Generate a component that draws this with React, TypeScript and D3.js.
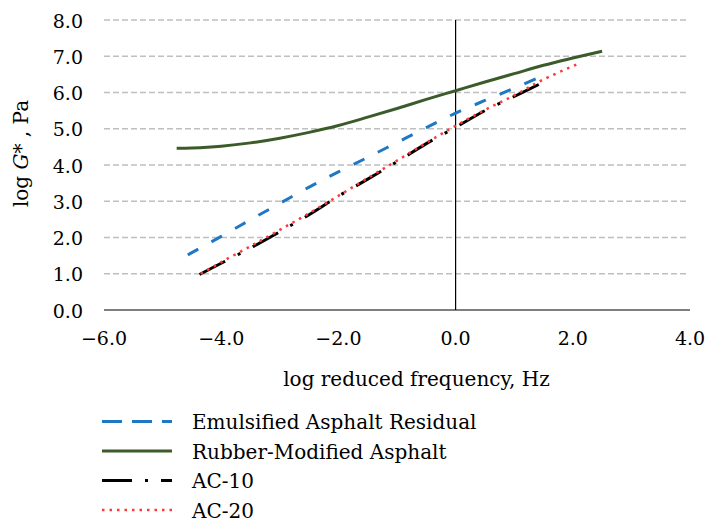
import React from 'react';
import * as d3 from 'd3';

const width = 709;
const height = 523;

// plot area in px
const margin = { top: 20, right: 19, bottom: 213, left: 104 };

// axis ticks
const xTicks = [-6, -4, -2, 0, 2, 4];
const yTicks = [0, 1, 2, 3, 4, 5, 6, 7, 8];

// Emulsified Asphalt Residual
const emulX = [-4.57, -4.0, -3.5, -3.0, -2.5, -2.0, -1.5, -1.0, -0.5, 0.0, 0.5, 1.0, 1.5, 1.59];
const emulY = [1.52, 2.03, 2.49, 2.94, 3.39, 3.81, 4.21, 4.62, 5.03, 5.43, 5.78, 6.12, 6.47, 6.53];

// Rubber-Modified Asphalt
const rubberX = [-4.76, -4.5, -4.0, -3.5, -3.0, -2.5, -2.0, -1.5, -1.0, -0.5, 0.0, 0.5, 1.0, 1.5, 2.0, 2.5];
const rubberY = [4.46, 4.47, 4.52, 4.61, 4.74, 4.9, 5.09, 5.32, 5.56, 5.81, 6.05, 6.29, 6.52, 6.75, 6.95, 7.14];

// AC-10
const ac10X = [-4.37, -4.0, -3.5, -3.0, -2.5, -2.0, -1.5, -1.0, -0.5, 0.0, 0.5, 1.0, 1.43];
const ac10Y = [0.98, 1.29, 1.71, 2.16, 2.63, 3.14, 3.61, 4.09, 4.59, 5.04, 5.5, 5.89, 6.23];

// AC-20
const ac20X = [-4.35, -4.0, -3.5, -3.0, -2.5, -2.0, -1.5, -1.0, -0.5, 0.0, 0.5, 1.0, 1.5, 2.12];
const ac20Y = [1.0, 1.32, 1.76, 2.21, 2.67, 3.15, 3.64, 4.12, 4.61, 5.08, 5.52, 5.92, 6.36, 6.81];

const font = '"DejaVu Serif", serif';

const series = [
  { name: 'Emulsified Asphalt Residual', xs: emulX, ys: emulY, color: '#1f78c3', w: 3, dash: '12 15', legendDash: '20 10' },
  { name: 'Rubber-Modified Asphalt', xs: rubberX, ys: rubberY, color: '#3b5c2a', w: 3, dash: null, legendDash: null },
  { name: 'AC-10', xs: ac10X, ys: ac10Y, color: '#000000', w: 3, dash: '29 14 3 14', legendDash: '30 13 3 13' },
  { name: 'AC-20', xs: ac20X, ys: ac20Y, color: '#ff3838', w: 2.5, dash: '2.5 5', legendDash: '2.5 5' },
];

const App = () => {
  const x = d3.scaleLinear().domain([-6, 4]).range([margin.left, width - margin.right]);
  const y = d3.scaleLinear().domain([0, 8]).range([height - margin.bottom, margin.top]);
  const fmt = d3.format('.1f');

  const line = d3
    .line<[number, number]>()
    .x(d => x(d[0]))
    .y(d => y(d[1]))
    .curve(d3.curveCatmullRom.alpha(0.5));

  return (
    <svg width={width} height={height} style={{ position: 'absolute', left: 0, top: 0, background: '#fff' }}>
      {/* grid */}
      {yTicks.filter(t => t > 0).map(t => (
        <line key={t} x1={x(-6)} x2={x(4) - 2} y1={y(t)} y2={y(t)} stroke="#bfbfbf" strokeWidth={1.3} strokeDasharray="6 3" />
      ))}
      {/* axes */}
      <line x1={x(-6)} x2={x(4)} y1={y(0)} y2={y(0)} stroke="#000" strokeWidth={1.2} />
      <line x1={x(0)} x2={x(0)} y1={y(8)} y2={y(0)} stroke="#000" strokeWidth={1.2} />

      {yTicks.map(t => (
        <text key={t} x={83} y={y(t) + 7.5} textAnchor="end" fontFamily={font} fontSize={19} fill="#000">
          {fmt(t)}
        </text>
      ))}
      {xTicks.map(t => (
        <text key={t} x={x(t)} y={345} textAnchor="middle" fontFamily={font} fontSize={19} fill="#000">
          {fmt(t)}
        </text>
      ))}

      {series.map(s => (
        <path
          key={s.name}
          d={line(s.xs.map((v, i) => [v, s.ys[i]] as [number, number])) || ''}
          fill="none"
          stroke={s.color}
          strokeWidth={s.w}
          strokeDasharray={s.dash || undefined}
          strokeLinecap="butt"
        />
      ))}

      <text x={416.5} y={386} textAnchor="middle" fontFamily={font} fontSize={20} fill="#000">
        log reduced frequency, Hz
      </text>
      <text transform="translate(28,153.5) rotate(-90)" textAnchor="middle" fontFamily={font} fontSize={20} fill="#000">
        log <tspan fontStyle="italic">G</tspan>* , Pa
      </text>

      {/* legend */}
      {series.map((s, i) => {
        const ly = 421.5 + i * 29.5;
        return (
          <g key={s.name}>
            <line x1={102} x2={172} y1={ly} y2={ly} stroke={s.color} strokeWidth={s.w} strokeDasharray={s.legendDash || undefined} />
            <text x={192} y={ly + 7.5} fontFamily={font} fontSize={20} fill="#000">
              {s.name}
            </text>
          </g>
        );
      })}
    </svg>
  );
};

export default App;
